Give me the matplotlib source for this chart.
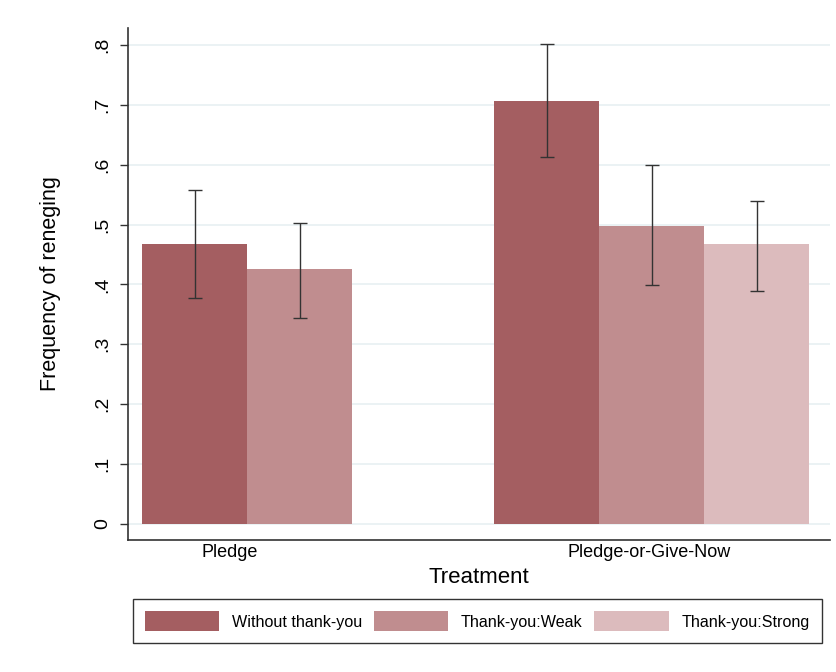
import matplotlib.pyplot as plt
from matplotlib.patches import Patch

plt.rcParams['font.family'] = ['Liberation Sans', 'DejaVu Sans']

groups = ["Pledge", "Pledge-or-Give-Now"]
series = ["Without thank-you", "Thank-you:Weak", "Thank-you:Strong"]
colors = ["#a45e61", "#c08d8f", "#dcbbbd"]

# (group, series) -> mean, ci low, ci high
pledge_mean = [0.467, 0.426]
pledge_lo = [0.378, 0.344]
pledge_hi = [0.558, 0.503]
pgn_mean = [0.706, 0.497, 0.467]
pgn_lo = [0.613, 0.399, 0.389]
pgn_hi = [0.801, 0.599, 0.539]

pledge_x = [0, 1]
pgn_x = [3.35, 4.35, 5.35]
group_label_x = [0.33, 4.33]

fig = plt.figure(figsize=(8.36, 6.72), dpi=100)
ax = fig.add_axes([0.1531, 0.1964, 0.8399, 0.7619])

for xs, m, lo, hi in [(pledge_x, pledge_mean, pledge_lo, pledge_hi),
                      (pgn_x, pgn_mean, pgn_lo, pgn_hi)]:
    for i in range(len(xs)):
        ax.bar(xs[i], m[i], width=1.0, color=colors[i], zorder=2)
        ax.errorbar(xs[i], m[i], yerr=[[m[i] - lo[i]], [hi[i] - m[i]]],
                    fmt='none', ecolor='#333333', elinewidth=1.0,
                    capsize=5, capthick=1.0, zorder=3)

ax.set_xlim(-0.638, 6.05)
ax.set_ylim(-0.0267, 0.828)
yt = [0, 0.1, 0.2, 0.3, 0.4, 0.5, 0.6, 0.7, 0.8]
ax.set_yticks(yt)
ax.set_yticklabels(["0", ".1", ".2", ".3", ".4", ".5", ".6", ".7", ".8"],
                   rotation=90, va='center', fontsize=14)
ax.set_xticks(group_label_x)
ax.set_xticklabels(groups, fontsize=13)
ax.tick_params(axis='x', length=0, pad=3)
ax.tick_params(axis='y', length=6, width=1, color='#333333', pad=6)
ax.yaxis.grid(True, color='#e8f0f2', linewidth=1.2, zorder=0)
ax.set_axisbelow(True)

for s in ['top', 'right']:
    ax.spines[s].set_visible(False)
for s in ['left', 'bottom']:
    ax.spines[s].set_color('#333333')
    ax.spines[s].set_linewidth(1.2)

ax.set_ylabel("Frequency of reneging", fontsize=15.5, labelpad=24)
ax.set_xlabel("Treatment", fontsize=16, labelpad=4)

handles = [Patch(facecolor=c) for c in colors]
leg = fig.legend(handles, series, loc='lower left',
                 bbox_to_anchor=(0.159, 0.043, 0.824, 0.064), mode='expand',
                 ncol=3, fontsize=11.6, frameon=True, fancybox=False,
                 edgecolor='black', handlelength=4.6, handleheight=1.5,
                 borderaxespad=0, borderpad=0.75, handletextpad=0.8)
leg.get_frame().set_linewidth(1.0)

fig.savefig("out.png", dpi=100)
